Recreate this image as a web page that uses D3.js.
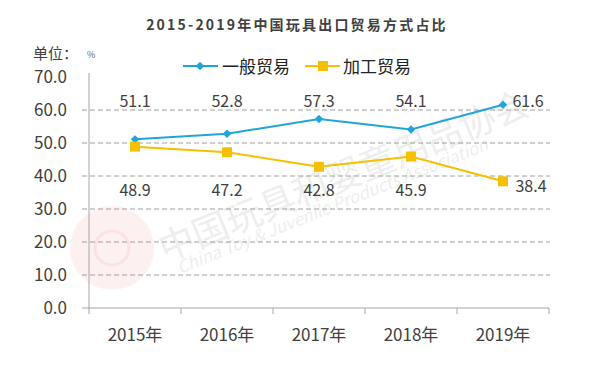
<!DOCTYPE html>
<html lang="zh">
<head>
<meta charset="UTF-8">
<title>2015-2019年中国玩具出口贸易方式占比</title>
<script src="https://d3js.org/d3.v7.min.js"></script>
<style>
  body { margin: 0; padding: 0; background: #fff; overflow: hidden; }
  svg { display: block; font-family: "Noto Sans CJK SC", "Noto Sans", sans-serif; }
</style>
</head>
<body>
<svg id="chart" width="595" height="371"></svg>
<script>
const years = ["2015年", "2016年", "2017年", "2018年", "2019年"];
const general = [51.1, 52.8, 57.3, 54.1, 61.6];     // 一般贸易
const processing = [48.9, 47.2, 42.8, 45.9, 38.4];  // 加工贸易
const yTicks = [0, 10, 20, 30, 40, 50, 60, 70];

const svg = d3.select("#chart");
const textColor = "#404040";
const blue = "#1fa6d8";
const yellow = "#f5c000";

const x = d3.scaleBand().domain(years).range([89, 549]);
const y = d3.scaleLinear().domain([0, 70]).range([308, 77]);

// faint watermark (logo + association name)
const wm = svg.append("g");
wm.append("circle").attr("cx", 112).attr("cy", 248).attr("r", 42)
  .attr("fill", "#e23a3a").attr("opacity", 0.08);
wm.append("circle").attr("cx", 112).attr("cy", 248).attr("r", 17)
  .attr("fill", "none").attr("stroke", "#e23a3a").attr("stroke-width", 3).attr("opacity", 0.08);
wm.append("text")
  .attr("transform", "translate(165,262) rotate(-22)")
  .attr("font-size", 36).attr("fill", "#777").attr("opacity", 0.12)
  .text("中国玩具和婴童用品协会");
wm.append("text")
  .attr("transform", "translate(180,274) rotate(-22)")
  .attr("font-size", 17).attr("font-style", "italic").attr("fill", "#777").attr("opacity", 0.12)
  .text("China Toy & Juvenile Products Association");

// title
svg.append("text")
  .attr("x", 297).attr("y", 30)
  .attr("text-anchor", "middle")
  .attr("font-size", 14).attr("font-weight", "bold")
  .attr("letter-spacing", 2.2)
  .attr("fill", textColor)
  .text("2015-2019年中国玩具出口贸易方式占比");

// unit
svg.append("text").attr("x", 33).attr("y", 59).attr("fill", textColor)
  .attr("font-size", 15).text("单位：");
svg.append("text").attr("x", 87).attr("y", 58).attr("fill", "#666")
  .attr("font-size", 9).text("%");

// gridlines
svg.append("g")
  .selectAll("line")
  .data(yTicks.filter(d => d > 0 && d < 70))
  .join("line")
  .attr("x1", 82).attr("x2", 550)
  .attr("y1", d => y(d)).attr("y2", d => y(d))
  .attr("stroke", "#a0a0a0").attr("stroke-dasharray", "5,3").attr("stroke-width", 1);

// y axis
const yAxis = svg.append("g")
  .attr("transform", "translate(89,0)")
  .call(d3.axisLeft(y).tickValues(yTicks).tickFormat(d3.format(".1f")).tickSize(0).tickPadding(22));
yAxis.select(".domain").attr("d", "M0,73V308").attr("stroke", "#a6a6a6");
yAxis.selectAll("text").attr("font-size", 17).attr("fill", textColor)
  .attr("font-family", "'Noto Sans CJK SC', sans-serif");

// x axis
const xAxis = svg.append("g")
  .attr("transform", "translate(0,308)")
  .call(d3.axisBottom(x).tickSize(0).tickPadding(21));
xAxis.select(".domain").attr("d", "M82,0H549").attr("stroke", "#a6a6a6");
xAxis.selectAll("text").attr("font-size", 17).attr("fill", textColor)
  .attr("font-family", "'Noto Sans CJK SC', sans-serif");
svg.append("g")
  .selectAll("line")
  .data(years.map(d => x(d)).concat([x.range()[1]]))
  .join("line")
  .attr("x1", d => d).attr("x2", d => d)
  .attr("y1", 308).attr("y2", 314)
  .attr("stroke", "#a6a6a6");

const cx = d => x(d) + x.bandwidth() / 2;
const line = d3.line().x(d => cx(d.year)).y(d => y(d.v));

const s1 = years.map((yr, i) => ({year: yr, v: general[i]}));
const s2 = years.map((yr, i) => ({year: yr, v: processing[i]}));

svg.append("path").datum(s2).attr("d", line)
  .attr("fill", "none").attr("stroke", yellow).attr("stroke-width", 2);
svg.append("path").datum(s1).attr("d", line)
  .attr("fill", "none").attr("stroke", blue).attr("stroke-width", 2);

const diamond = d3.symbol().type(d3.symbolSquare).size(36);
svg.append("g").selectAll("path").data(s1).join("path")
  .attr("d", diamond)
  .attr("transform", d => `translate(${cx(d.year)},${y(d.v)}) rotate(45)`)
  .attr("fill", blue);

svg.append("g").selectAll("rect").data(s2).join("rect")
  .attr("x", d => cx(d.year) - 5).attr("y", d => y(d.v) - 5)
  .attr("width", 10).attr("height", 10)
  .attr("fill", yellow);

// data labels
svg.append("g").selectAll("text").data(s1).join("text")
  .attr("x", (d, i) => i === 4 ? cx(d.year) + 25 : cx(d.year))
  .attr("y", 107)
  .attr("text-anchor", "middle")
  .attr("font-size", 16).attr("fill", textColor)
  .text(d => d.v.toFixed(1));

svg.append("g").selectAll("text").data(s2).join("text")
  .attr("x", (d, i) => i === 4 ? cx(d.year) + 28 : cx(d.year))
  .attr("y", (d, i) => i === 4 ? 192 : 196)
  .attr("text-anchor", "middle")
  .attr("font-size", 16).attr("fill", textColor)
  .text(d => d.v.toFixed(1));

// legend
const lg = svg.append("g");
lg.append("line").attr("x1", 183).attr("x2", 218).attr("y1", 66).attr("y2", 66)
  .attr("stroke", blue).attr("stroke-width", 2);
lg.append("path").attr("d", diamond).attr("transform", "translate(200,66) rotate(45)").attr("fill", blue);
lg.append("text").attr("x", 222).attr("y", 73).attr("font-size", 17).attr("fill", "#222").text("一般贸易");
lg.append("line").attr("x1", 305).attr("x2", 340).attr("y1", 66).attr("y2", 66)
  .attr("stroke", yellow).attr("stroke-width", 2);
lg.append("rect").attr("x", 318).attr("y", 61).attr("width", 10).attr("height", 10).attr("fill", yellow);
lg.append("text").attr("x", 343).attr("y", 73).attr("font-size", 17).attr("fill", "#222").text("加工贸易");
</script>
</body>
</html>
